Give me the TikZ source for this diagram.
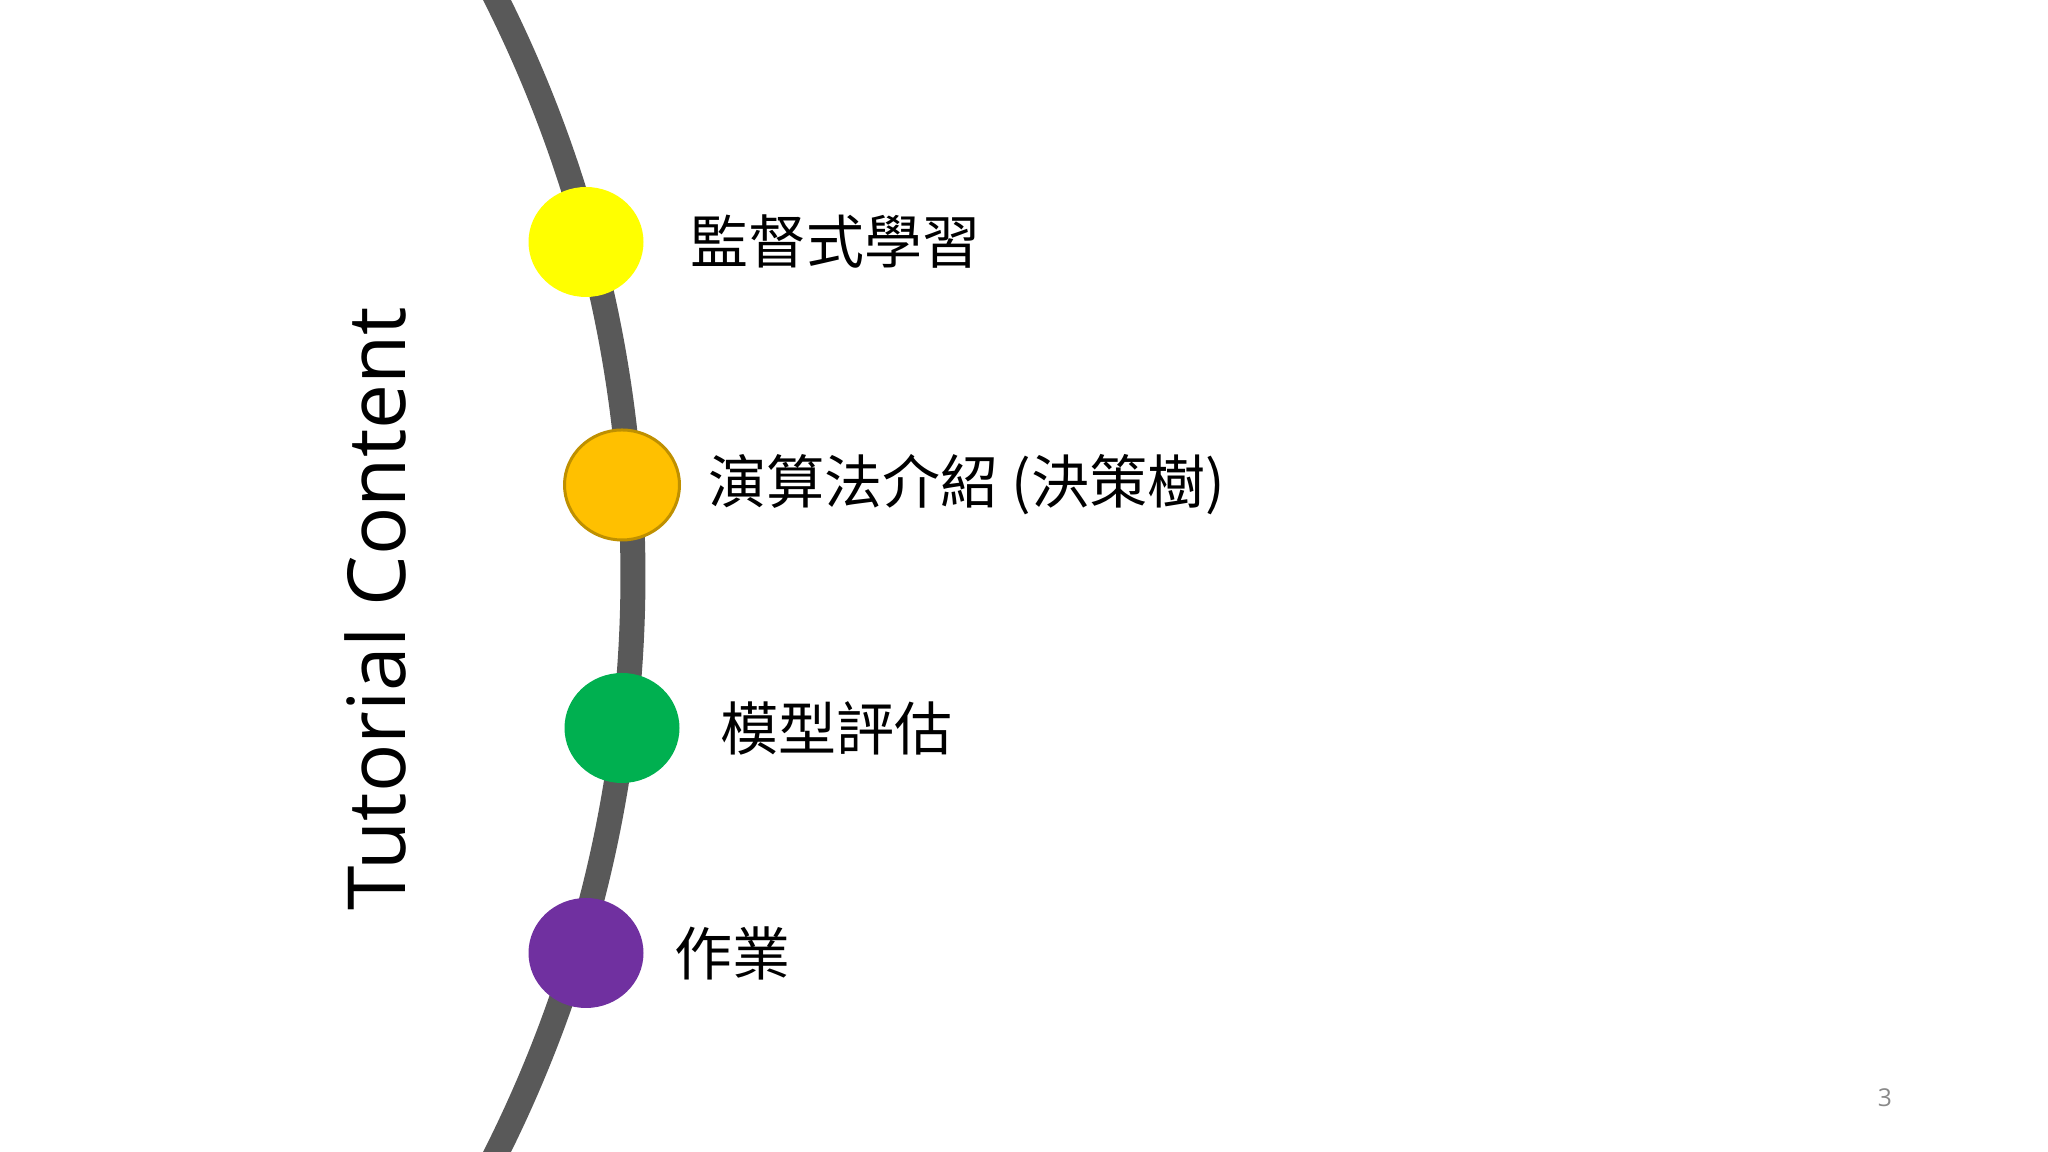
\documentclass[tikz,border=0pt]{standalone}
\usepackage{fontspec}
\setmainfont{Open Sans}
\newfontfamily\cjk{Noto Sans CJK TC}
\usepackage{xcolor}
\usetikzlibrary{positioning,shapes.geometric}

\definecolor{lineGrey}{HTML}{595959}
\definecolor{dotYellow}{HTML}{FFFF00}
\definecolor{dotOrange}{HTML}{FFC000}
\definecolor{dotOrangeRim}{HTML}{BF9000}
\definecolor{dotGreen}{HTML}{00B050}
\definecolor{dotPurple}{HTML}{7030A0}
\definecolor{pageGrey}{HTML}{898989}

\tikzset{
	dot/.style={ellipse,minimum width=1.15cm,minimum height=1.10cm,inner sep=0pt},
	item/.style={anchor=west,inner sep=0pt,font=\cjk\fontsize{16.5}{20}\selectfont},
}

\begin{document}
\begin{tikzpicture}
	\useasboundingbox (0,0) rectangle (20.48,11.52);
	\clip (0,0) rectangle (20.48,11.52);
	
	\coordinate (arcTop) at (4.715,12.004);
	\draw[lineGrey,line width=0.25cm] (arcTop) arc[start angle=29,end angle=-29,radius=12.88];
	
	\node[dot,fill=dotYellow] (sup) at (5.86,9.10) {};
	\node[dot,fill=dotOrange,draw=dotOrangeRim,line width=0.03cm] (alg) at (6.22,6.67) {};
	\node[dot,fill=dotGreen] (eval) at (6.22,4.24) {};
	\node[dot,fill=dotPurple] (hw) at (5.86,1.99) {};
	
	\node[item] (supText) at (6.90,9.10) {監督式學習};
	\node[item] (algText) at (7.08,6.67) {演算法介紹 (決策樹)};
	\node[item] (evalText) at (7.20,4.24) {模型評估};
	\node[item] (hwText) at (6.74,1.99) {作業};
	
	\node[rotate=90,font=\fontsize{22.8}{27}\selectfont] (title) at (3.75,5.43) {Tutorial Content};
	\node[text=pageGrey,font=\fontsize{7}{8}\selectfont] (page) at (18.85,0.54) {3};
\end{tikzpicture}
\end{document}
